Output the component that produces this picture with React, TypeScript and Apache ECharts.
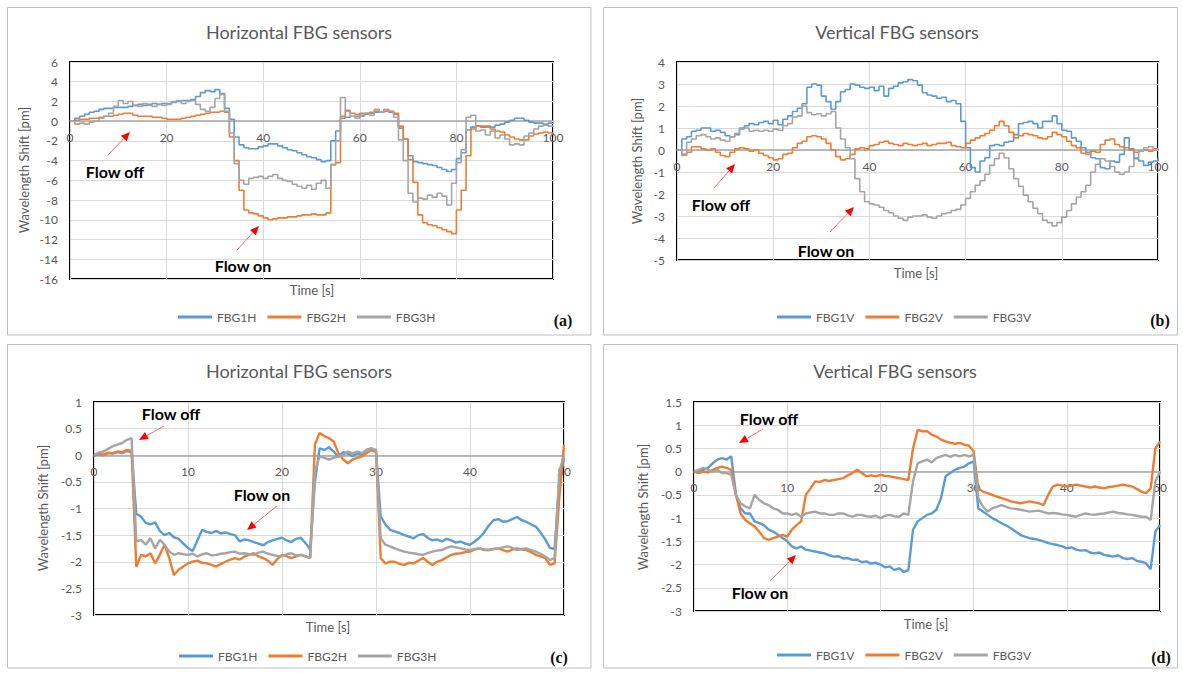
import React, { useEffect, useRef } from "react";
import * as echarts from "echarts";

// ---------- DATA ----------
// Panels (a) and (b): one value per second, t = 0 .. 100 s
const timesAB: number[] = Array.from({ length: 101 }, (_, i) => i);
// Panels (c) and (d): one value every 0.5 s, t = 0 .. 50 s
const timesCD: number[] = Array.from({ length: 101 }, (_, i) => i / 2);

const fbg1H_a = [
  0, 0.3, 0.5, 0.7, 0.9, 1.0, 1.2, 1.3, 1.3, 1.4,
  1.4, 1.4, 1.5, 1.6, 1.7, 1.6, 1.7, 1.8, 1.7, 1.8,
  1.8, 1.9, 2.0, 2.1, 2.1, 2.2, 2.5, 2.9, 3.1, 3.0,
  3.2, 2.8, 1.3, 0.2, -1.6, -2.4, -2.7, -2.8, -2.8, -2.6,
  -2.5, -2.3, -2.3, -2.5, -2.7, -2.9, -3.0, -3.2, -3.4, -3.6,
  -3.7, -3.9, -4.1, -4.0, -2.0, -1.0, 0.3, 0.4, 0.5, 0.5,
  0.6, 0.7, 0.8, 0.9, 0.9, 1.0, 0.9, 0.7, -0.7, -1.8,
  -3.5, -4.1, -4.2, -4.3, -4.4, -4.5, -4.7, -4.9, -5.1, -4.9,
  -3.8, -3.2, -0.9, -0.6, -0.5, -0.6, -0.5, -0.6, -0.4, -0.3,
  -0.1, 0.1, 0.3, 0.3, 0.1, -0.1, -0.2, -0.2, -0.3, -0.2,
  -0.3,
];
const fbg2H_a = [
  0, 0.1, 0.2, 0.2, 0.3, 0.3, 0.4, 0.5, 0.5, 0.6,
  0.7, 0.8, 0.8, 0.6, 0.5, 0.5, 0.5, 0.4, 0.4, 0.3,
  0.2, 0.2, 0.2, 0.3, 0.4, 0.5, 0.6, 0.7, 0.8, 0.9,
  0.9, 1.0, 0.9, -1.6, -4.0, -7.0, -9.0, -9.3, -9.4, -9.6,
  -9.8, -10.0, -9.9, -9.8, -9.8, -9.7, -9.7, -9.6, -9.5, -9.5,
  -9.4, -9.5, -9.5, -9.3, -4.4, -4.2, 0.5, 1.1, 0.8, 0.7,
  0.8, 0.8, 0.9, 1.0, 0.9, 1.0, 1.0, 0.8, -0.5, -1.8,
  -3.9, -6.2, -9.5, -10.3, -10.5, -10.6, -10.8, -11.0, -11.2, -11.4,
  -9.0, -7.0, -3.5, -0.8, -0.5, -0.5, -0.6, -0.8, -1.0, -1.1,
  -1.4, -1.6, -1.8, -1.9, -1.9, -1.5, -1.3, -1.2, -1.1, -1.2,
  -1.3,
];
const fbg3H_a = [
  0, -0.3, -0.2, -0.3, -0.1, 0.0, 0.3, 0.5, 0.8, 1.5,
  2.1, 1.8, 2.0, 1.6, 1.5, 1.8, 1.6, 1.5, 1.7, 1.6,
  1.7, 2.0, 2.1, 1.8, 2.0, 2.1, 1.7, 1.2, 1.0, 1.4,
  2.3, 2.7, 1.0, -1.2, -4.3, -6.0, -6.4, -5.8, -5.7, -5.6,
  -5.8, -5.6, -5.4, -5.8, -6.0, -6.1, -6.4, -6.6, -6.8, -6.5,
  -6.9, -6.3, -6.0, -6.8, -4.4, -2.0, 2.4, 1.0, 0.5, 0.3,
  0.5, 0.8, 0.6, 1.2, 0.9, 1.2, 1.0, 0.4, -1.9, -4.0,
  -7.3, -8.2, -7.8, -7.9, -7.5, -7.7, -7.3, -7.6, -8.5, -6.3,
  -4.2, -2.9, 0.4, 0.6, -1.0, -0.9, -1.4, -1.0, -1.7, -1.4,
  -1.8, -2.4, -2.3, -2.4, -1.5, -1.2, -0.8, -0.5, -0.4, -0.5,
  -0.6,
];

const fbg1V_b = [
  0, 0.5, 0.6, 0.85, 0.9, 1.0, 1.0, 0.85, 0.9, 0.8,
  0.65, 0.6, 0.7, 1.0, 1.1, 1.2, 1.15, 1.25, 1.3, 1.2,
  1.35, 1.15, 1.4, 1.55, 1.75, 1.9, 2.1, 2.85, 3.0, 2.95,
  2.45, 2.2, 1.85, 2.2, 2.65, 2.75, 3.0, 2.95, 2.85, 2.8,
  2.85, 2.7, 2.9, 2.45, 2.8, 2.9, 3.05, 3.1, 3.2, 3.15,
  2.95, 2.6, 2.5, 2.45, 2.35, 2.4, 2.2, 2.25, 2.1, 1.3,
  0.1, -0.8, -1.0, -0.5, -0.35, 0.2, 0.25, 0.2, 0.35, 0.4,
  0.7, 1.2, 1.25, 1.3, 1.2, 1.0, 1.3, 1.3, 1.55, 1.2,
  0.9, 0.85, 0.55, 0.4, 0.1, -0.1, -0.35, -0.4, -0.8, -0.85,
  -0.5, -0.55, -0.2, 0.55, 0.05, -0.4, -0.5, -0.7, -0.55, -0.5,
  -0.35,
];
const fbg2V_b = [
  0, -0.2, -0.1, 0.15, 0.15, 0.05, 0, 0.05, -0.1, -0.25,
  -0.3, -0.1, 0.05, 0.1, 0.05, -0.05, 0, -0.15, -0.25, -0.35,
  -0.45, -0.4, -0.2, -0.15, 0.1, 0.3, 0.4, 0.6, 0.65, 0.6,
  0.5, 0.3, 0, -0.3, -0.45, -0.4, -0.2, 0.05, 0.1, 0.05,
  0.2, 0.25, 0.35, 0.4, 0.3, 0.25, 0.2, 0.3, 0.25, 0.2,
  0.25, 0.3, 0.2, 0.25, 0.3, 0.3, 0.35, 0.2, 0.15, 0.1,
  0.3, 0.45, 0.55, 0.65, 0.75, 0.9, 1.1, 1.3, 1.1, 0.8,
  0.55, 0.65, 0.75, 0.7, 0.65, 0.55, 0.5, 0.6, 0.8, 0.7,
  0.6, 0.4, 0.2, 0.1, -0.15, -0.2, -0.05, -0.1, 0.25, 0.45,
  0.5, 0.25, 0.15, 0.1, 0, -0.1, -0.05, 0, -0.05, 0.05,
  0,
];
const fbg3V_b = [
  0, -0.25, 0.35, 0.5, 0.65, 0.7, 0.6, 0.5, 0.55, 0.45,
  0.4, 0.6, 0.75, 0.95, 1.0, 0.85, 0.9, 0.85, 0.9, 0.85,
  0.95, 0.9, 1.1, 1.2, 1.5, 1.55, 2.0, 1.7, 1.6, 1.65,
  1.55, 1.65, 1.75, 1.0, 0.5, 0.1, -0.4, -1.3, -1.9, -2.35,
  -2.45, -2.5, -2.6, -2.75, -2.85, -3.0, -3.1, -3.2, -3.05, -3.0,
  -3.0, -2.95, -3.05, -3.1, -3.0, -2.9, -2.85, -2.75, -2.7, -2.5,
  -2.2, -1.9, -1.6, -1.4, -1.1, -0.7, -0.4, -0.15, -0.35, -0.85,
  -1.3, -1.65, -2.05, -2.35, -2.65, -2.9, -3.2, -3.3, -3.45, -3.3,
  -3.05, -2.75, -2.45, -2.15, -1.9, -1.6, -1.0, -0.65, -0.4, -0.5,
  -0.75, -1.0, -1.1, -1.0, -0.75, -0.35, -0.05, 0.1, 0.15, 0,
  0.1,
];

const fbg1H_c = [
  0, 0.02, 0, 0.04, 0.03, 0.06, 0.04, 0.08, 0.06, -1.1,
  -1.15, -1.27, -1.3, -1.26, -1.42, -1.5, -1.46, -1.54, -1.57, -1.66,
  -1.74, -1.8, -1.6, -1.4, -1.44, -1.46, -1.42, -1.47, -1.45, -1.48,
  -1.5, -1.62, -1.58, -1.6, -1.63, -1.66, -1.69, -1.63, -1.6, -1.57,
  -1.55, -1.6, -1.63, -1.57, -1.55, -1.65, -1.77, -0.5, 0.13, 0.1,
  0.15, 0.07, -0.03, 0.06, 0.03, -0.02, 0.04, 0, 0.1, 0.13,
  0.08, -1.15, -1.3, -1.4, -1.43, -1.46, -1.5, -1.53, -1.56, -1.5,
  -1.48, -1.55, -1.6, -1.58, -1.62, -1.57, -1.6, -1.64, -1.62, -1.66,
  -1.68, -1.62, -1.55, -1.45, -1.32, -1.22, -1.2, -1.25, -1.24, -1.2,
  -1.16, -1.22, -1.25, -1.3, -1.34, -1.45, -1.58, -1.74, -1.76, -0.5,
  -0.05,
];
const fbg2H_c = [
  0, 0.03, 0.01, 0.05, 0.04, 0.07, 0.06, 0.1, 0.08, -2.1,
  -1.87, -1.9, -1.84, -2.03, -1.87, -1.68, -1.93, -2.25, -2.15, -2.09,
  -2.03, -2.0, -1.98, -2.02, -2.03, -2.06, -2.09, -2.04, -2.0, -1.96,
  -1.93, -1.96, -1.9, -1.87, -1.84, -1.9, -1.93, -1.98, -2.06, -1.95,
  -1.87, -1.9, -1.93, -1.9, -1.87, -1.9, -1.93, 0.2, 0.42, 0.36,
  0.32, 0.26, 0.04, -0.08, -0.15, -0.08, -0.05, -0.02, 0.04, 0.1,
  0.06, -1.93, -2.03, -2.0, -2.0, -2.04, -2.06, -2.02, -2.03, -1.98,
  -1.93, -2.0, -2.06, -2.0, -1.97, -1.92, -1.87, -1.85, -1.84, -1.82,
  -1.81, -1.77, -1.75, -1.78, -1.78, -1.76, -1.75, -1.78, -1.81, -1.77,
  -1.75, -1.77, -1.78, -1.82, -1.87, -1.9, -1.93, -2.06, -2.03, -0.8,
  0.2,
];
const fbg3H_c = [
  0, 0.05, 0.07, 0.12, 0.17, 0.2, 0.23, 0.29, 0.32, -1.62,
  -1.59, -1.68, -1.56, -1.75, -1.59, -1.68, -1.81, -1.87, -1.84, -1.86,
  -1.87, -1.85, -1.9, -1.86, -1.84, -1.88, -1.87, -1.85, -1.84, -1.82,
  -1.81, -1.85, -1.84, -1.86, -1.87, -1.83, -1.81, -1.85, -1.87, -1.89,
  -1.9, -1.86, -1.84, -1.88, -1.87, -1.9, -1.93, -0.3, -0.02, -0.05,
  -0.08, -0.05, -0.02, 0.0, 0.07, 0.03, 0.07, 0.04, 0.1, 0.13,
  0.1, -1.56, -1.68, -1.71, -1.75, -1.78, -1.81, -1.83, -1.84, -1.86,
  -1.87, -1.84, -1.81, -1.79, -1.78, -1.74, -1.71, -1.73, -1.75, -1.77,
  -1.78, -1.76, -1.75, -1.77, -1.78, -1.76, -1.75, -1.73, -1.71, -1.74,
  -1.78, -1.76, -1.75, -1.78, -1.81, -1.85, -1.9, -1.97, -1.93, -0.3,
  0.0,
];

const fbg1V_d = [
  0, 0.02, 0.04, 0.08, 0.18, 0.26, 0.29, 0.26, 0.33, -0.5,
  -0.79, -0.9, -0.9, -1.07, -1.11, -1.15, -1.25, -1.29, -1.36, -1.43,
  -1.5, -1.61, -1.65, -1.61, -1.68, -1.7, -1.72, -1.74, -1.76, -1.8,
  -1.83, -1.82, -1.87, -1.86, -1.9, -1.89, -1.95, -1.93, -1.98, -1.96,
  -2.0, -2.06, -2.04, -2.12, -2.08, -2.16, -2.12, -1.25, -1.07, -1.0,
  -0.93, -0.9, -0.82, -0.57, -0.1, -0.03, 0.04, 0.08, 0.11, 0.18,
  0.22, -0.79, -0.86, -0.93, -1.0, -1.05, -1.11, -1.16, -1.22, -1.29,
  -1.36, -1.4, -1.43, -1.45, -1.47, -1.5, -1.54, -1.56, -1.58, -1.61,
  -1.65, -1.63, -1.68, -1.7, -1.69, -1.74, -1.76, -1.74, -1.79, -1.81,
  -1.83, -1.8, -1.86, -1.88, -1.86, -1.92, -1.94, -1.97, -2.1, -1.29,
  -1.15,
];
const fbg2V_d = [
  0, -0.03, 0, -0.02, 0.04, 0.08, 0.11, 0.08, 0.04, -0.5,
  -0.9, -1.04, -1.11, -1.18, -1.29, -1.43, -1.47, -1.43, -1.4, -1.36,
  -1.4, -1.25, -1.15, -1.07, -0.5, -0.36, -0.21, -0.22, -0.18, -0.2,
  -0.18, -0.16, -0.14, -0.08, -0.03, 0.04, -0.03, -0.1, -0.08, -0.1,
  -0.07, -0.09, -0.1, -0.12, -0.14, -0.16, -0.18, 0.5, 0.9, 0.87,
  0.87, 0.8, 0.76, 0.69, 0.65, 0.62, 0.6, 0.62, 0.58, 0.56,
  0.44, -0.36, -0.43, -0.46, -0.5, -0.54, -0.57, -0.6, -0.64, -0.66,
  -0.68, -0.66, -0.64, -0.66, -0.68, -0.72, -0.5, -0.32, -0.28, -0.3,
  -0.32, -0.3, -0.28, -0.3, -0.32, -0.34, -0.32, -0.34, -0.36, -0.33,
  -0.32, -0.3, -0.28, -0.3, -0.32, -0.37, -0.43, -0.46, -0.36, 0.5,
  0.65,
];
const fbg3V_d = [
  0, 0.04, 0.08, 0.04, 0.0, 0.04, -0.03, -0.03, -0.07, -0.5,
  -0.68, -0.75, -0.79, -0.5, -0.61, -0.68, -0.72, -0.79, -0.82, -0.9,
  -0.9, -0.93, -0.9, -0.97, -0.9, -0.88, -0.86, -0.9, -0.9, -0.93,
  -0.93, -0.9, -0.9, -0.94, -0.97, -0.93, -0.93, -0.96, -0.97, -0.95,
  -1.0, -0.95, -0.93, -0.96, -0.97, -0.9, -0.93, -0.21, 0.18, 0.22,
  0.26, 0.2, 0.29, 0.33, 0.36, 0.32, 0.36, 0.33, 0.36, 0.33,
  0.36, -0.57, -0.75, -0.86, -0.79, -0.76, -0.72, -0.76, -0.79, -0.8,
  -0.82, -0.84, -0.86, -0.85, -0.84, -0.87, -0.9, -0.89, -0.9, -0.92,
  -0.93, -0.95, -0.97, -0.93, -0.9, -0.92, -0.93, -0.91, -0.9, -0.88,
  -0.86, -0.89, -0.9, -0.92, -0.93, -0.95, -0.97, -0.97, -1.04, -0.21,
  0.0,
];

const namesH = ["FBG1H", "FBG2H", "FBG3H"];
const namesV = ["FBG1V", "FBG2V", "FBG3V"];
const titles = ["Horizontal FBG sensors", "Vertical FBG sensors", "Horizontal FBG sensors", "Vertical FBG sensors"];
const panelTags = ["(a)", "(b)", "(c)", "(d)"];
const yRanges = [
  { min: -16, max: 6, interval: 2 },
  { min: -5, max: 4, interval: 1 },
  { min: -3, max: 1, interval: 0.5 },
  { min: -3, max: 1.5, interval: 0.5 },
];
const xRanges = [
  { min: 0, max: 100, interval: 20 },
  { min: 0, max: 100, interval: 20 },
  { min: 0, max: 50, interval: 10 },
  { min: 0, max: 50, interval: 10 },
];

// ---------- STYLE ----------
const COLORS = ["#5B9BD5", "#ED7D31", "#A5A5A5"];
const FONT = "Lato, 'Liberation Sans', sans-serif";
const GRAY_TXT = "#595959";

const grids = [
  { left: 70, top: 62, width: 483, height: 217 },
  { left: 677, top: 62, width: 481, height: 198 },
  { left: 94, top: 402, width: 470, height: 213 },
  { left: 694, top: 402, width: 466, height: 209 },
];

function arrow(x1: number, y1: number, x2: number, y2: number) {
  const dx = x2 - x1, dy = y2 - y1;
  const len = Math.hypot(dx, dy);
  const ux = dx / len, uy = dy / len;
  const hl = 9, hw = 4;
  const bx = x2 - ux * hl, by = y2 - uy * hl;
  return [
    { type: "line", z: 100, shape: { x1, y1, x2: bx, y2: by }, style: { stroke: "#f26b6b", lineWidth: 1 } },
    {
      type: "polygon", z: 100,
      shape: { points: [[x2, y2], [bx - uy * hw, by + ux * hw], [bx + uy * hw, by - ux * hw]] },
      style: { fill: "#ff0000" },
    },
  ];
}

function txt(text: string, x: number, y: number, style: any, extra: any = {}) {
  return {
    type: "text", x, y, z: 100, ...extra,
    style: { text, align: "center", verticalAlign: "middle", fontFamily: FONT, ...style },
  };
}

export default function App() {
  const ref = useRef<HTMLDivElement>(null);
  useEffect(() => {
    if (!ref.current) return;
    const chart = echarts.init(ref.current, undefined, { renderer: "svg" });

    const seriesSets = [
      { names: namesH, times: timesAB, data: [fbg1H_a, fbg2H_a, fbg3H_a], step: true, width: 1.6 },
      { names: namesV, times: timesAB, data: [fbg1V_b, fbg2V_b, fbg3V_b], step: true, width: 1.6 },
      { names: namesH, times: timesCD, data: [fbg1H_c, fbg2H_c, fbg3H_c], step: false, width: 2.4 },
      { names: namesV, times: timesCD, data: [fbg1V_d, fbg2V_d, fbg3V_d], step: false, width: 2.4 },
    ];

    const series: any[] = [];
    seriesSets.forEach((set, gi) => {
      set.data.forEach((vals, si) => {
        series.push({
          type: "line",
          name: set.names[si],
          xAxisIndex: gi,
          yAxisIndex: gi,
          data: set.times.map((t, i) => [t, vals[i]]),
          step: set.step ? "end" : false,
          showSymbol: false,
          symbol: "none",
          lineStyle: { width: set.width, color: COLORS[si] },
          itemStyle: { color: COLORS[si] },
          z: 2 + si,
        });
      });
    });

    const axisLabel = { color: GRAY_TXT, fontSize: 12, fontFamily: FONT };
    const splitLine = { show: true, lineStyle: { color: "#d9d9d9", width: 1 } };

    const legendPos = [
      { left: 173, top: 306 },
      { left: 772, top: 306 },
      { left: 174, top: 645 },
      { left: 772, top: 644 },
    ];

    const elements: any[] = [];
    // panel frames
    elements.push(
      { type: "rect", z: 1, shape: { x: 7.5, y: 7.5, width: 583.5, height: 327.5 }, style: { fill: "none", stroke: "#bfbfbf", lineWidth: 1 } },
      { type: "rect", z: 1, shape: { x: 603.5, y: 7.5, width: 574, height: 327.5 }, style: { fill: "none", stroke: "#bfbfbf", lineWidth: 1 } },
      { type: "rect", z: 1, shape: { x: 7.5, y: 344.5, width: 583.5, height: 323.5 }, style: { fill: "none", stroke: "#bfbfbf", lineWidth: 1 } },
      { type: "rect", z: 1, shape: { x: 603.5, y: 344.5, width: 574, height: 323.5 }, style: { fill: "none", stroke: "#bfbfbf", lineWidth: 1 } },
    );
    // titles
    const titlePos = [[299, 32], [897, 32], [299, 371], [895, 371]];
    titlePos.forEach((p, i) => elements.push(txt(titles[i], p[0], p[1], { fontSize: 18, fill: GRAY_TXT })));
    // y-axis names
    const yNamePos = [[24, 170], [637, 161], [43, 508], [643, 507]];
    yNamePos.forEach((p) =>
      elements.push(txt("Wavelength Shift [pm]", p[0], p[1], { fontSize: 13, fill: GRAY_TXT }, { rotation: Math.PI / 2 }))
    );
    // x-axis names
    const xNamePos = [[312, 290], [916, 273], [328, 627], [926, 624]];
    xNamePos.forEach((p) => elements.push(txt("Time [s]", p[0], p[1], { fontSize: 13, fill: GRAY_TXT })));
    // panel tags
    const tagPos = [[563, 320], [1160, 320], [559, 657], [1161, 657]];
    tagPos.forEach((p, i) =>
      elements.push(txt(panelTags[i], p[0], p[1], { fontSize: 16, fontWeight: "bold", fill: "#111", fontFamily: "'Liberation Serif', 'DejaVu Serif', serif" }))
    );
    // annotations
    const notes: [string, number, number][] = [
      ["Flow off", 115, 171], ["Flow on", 243, 265],
      ["Flow off", 721, 204], ["Flow on", 826, 250],
      ["Flow off", 171, 413], ["Flow on", 262, 494],
      ["Flow off", 769, 418], ["Flow on", 760, 592],
    ];
    notes.forEach((n) => elements.push(txt(n[0], n[1], n[2], { fontSize: 16, fontWeight: "bold", fill: "#000" })));
    const arrows: [number, number, number, number][] = [
      [108, 155, 130, 132], [237, 250, 259, 226],
      [714, 188, 735, 164], [830, 232, 854, 207],
      [164, 426, 139, 440], [277, 506, 247, 530],
      [763, 429, 739, 443], [770, 581, 796, 555],
    ];
    arrows.forEach((a) => elements.push(...arrow(a[0], a[1], a[2], a[3])));

    chart.setOption({
      animation: false,
      backgroundColor: "#ffffff",
      grid: grids.map((g) => ({ ...g, show: true, borderColor: "#000", borderWidth: 2, backgroundColor: "transparent" })),
      xAxis: grids.map((g, i) => ({
        type: "value",
        gridIndex: i,
        ...xRanges[i],
        position: "bottom",
        // move the whole axis (line + labels) up to the y = 0 level, as in the original
        offset: -g.height * (0 - yRanges[i].min) / (yRanges[i].max - yRanges[i].min),
        axisLine: { show: true, onZero: false, lineStyle: { color: "#a6a6a6", width: 1.5 } },
        axisTick: { show: false },
        axisLabel: { ...axisLabel, margin: 10 },
        splitLine,
      })),
      yAxis: grids.map((_, i) => ({
        type: "value",
        gridIndex: i,
        ...yRanges[i],
        axisLine: { show: false },
        axisTick: { show: false },
        axisLabel: { ...axisLabel, margin: 12 },
        splitLine,
      })),
      legend: legendPos.map((p, i) => ({
        data: i % 2 === 0 ? namesH : namesV,
        left: p.left,
        top: p.top,
        icon: "rect",
        itemWidth: 34,
        itemHeight: 3,
        itemGap: 11,
        selectedMode: false,
        textStyle: { color: GRAY_TXT, fontSize: 12, fontFamily: FONT },
      })),
      series,
      graphic: { elements },
    });

    return () => chart.dispose();
  }, []);

  return (
    <div
      ref={ref}
      style={{ position: "absolute", left: 0, top: 0, width: 1183, height: 673, background: "#fff" }}
    />
  );
}
